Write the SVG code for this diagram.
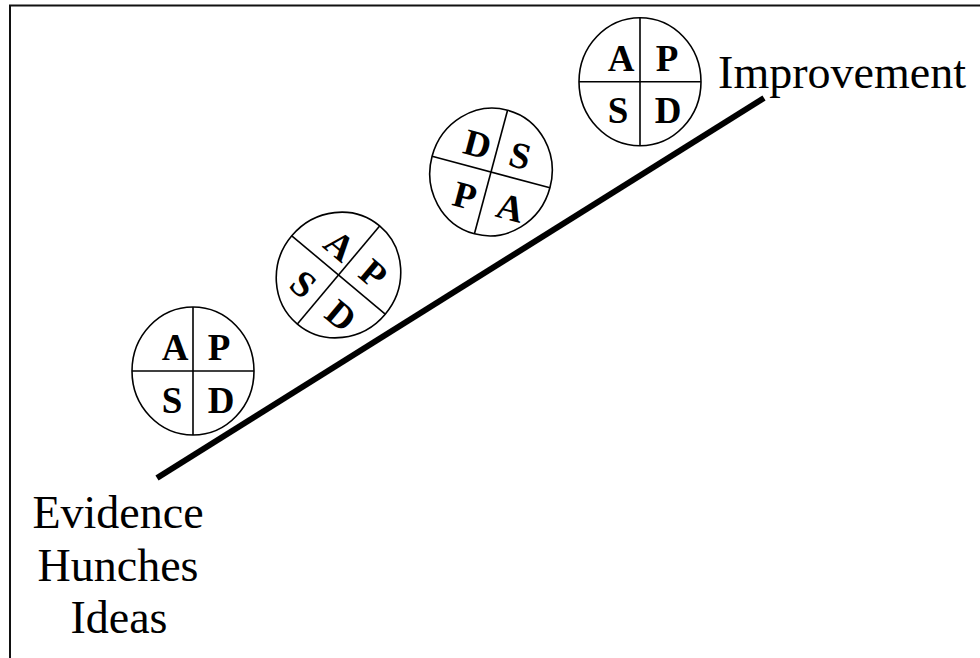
<svg xmlns="http://www.w3.org/2000/svg" width="980" height="658" viewBox="0 0 980 658">
<style>
.c{fill:#fff;stroke:#000;stroke-width:1.6}
.d{stroke:#000;stroke-width:1.6}
.l{font-family:"Liberation Serif","Times New Roman",serif;font-weight:bold;font-size:37px;fill:#000;text-anchor:middle}
.t{font-family:"Liberation Serif","Times New Roman",serif;font-size:46px;fill:#000;text-anchor:middle}
</style>
<defs>
<g id="cyc">
<ellipse class="c" cx="0" cy="0" rx="61" ry="64"/>
<line class="d" x1="0" y1="-64" x2="0" y2="64"/>
<line class="d" x1="-61" y1="0" x2="61" y2="0"/>
</g>
</defs>
<rect x="0" y="0" width="980" height="658" fill="#fff"/>
<g id="frame" fill="none" stroke="#111" stroke-width="2">
<polyline points="10,660 10,5.5 982,5.5"/>
</g>
<g id="connectors">
<line x1="157" y1="478" x2="764" y2="98" stroke="#000" stroke-width="6"/>
</g>
<g id="cycle1" transform="translate(193,371)">
<use href="#cyc"/>
<text class="l" x="-18" y="-11">A</text>
<text class="l" x="26" y="-11">P</text>
<text class="l" x="-21" y="42">S</text>
<text class="l" x="28" y="42">D</text>
</g>
<g id="cycle2" transform="translate(338.5,275) rotate(40)">
<use href="#cyc"/>
<text class="l" x="-18" y="-11">A</text>
<text class="l" x="26" y="-11">P</text>
<text class="l" x="-21" y="42">S</text>
<text class="l" x="28" y="42">D</text>
</g>
<g id="cycle3" transform="translate(491,172) rotate(15)">
<use href="#cyc"/>
<text class="l" x="-20" y="-11">D</text>
<text class="l" x="24" y="-11">S</text>
<text class="l" x="-19" y="42">P</text>
<text class="l" x="28" y="42">A</text>
</g>
<g id="cycle4" transform="translate(640,81.7)">
<use href="#cyc"/>
<text class="l" x="-19" y="-11">A</text>
<text class="l" x="27" y="-11">P</text>
<text class="l" x="-22" y="41">S</text>
<text class="l" x="28" y="41">D</text>
</g>
<g id="improvement">
<text class="t" x="842" y="88">Improvement</text>
</g>
<g id="start">
<text class="t" x="118" y="528">Evidence</text>
<text class="t" x="118" y="581">Hunches</text>
<text class="t" x="119" y="633">Ideas</text>
</g>
</svg>
